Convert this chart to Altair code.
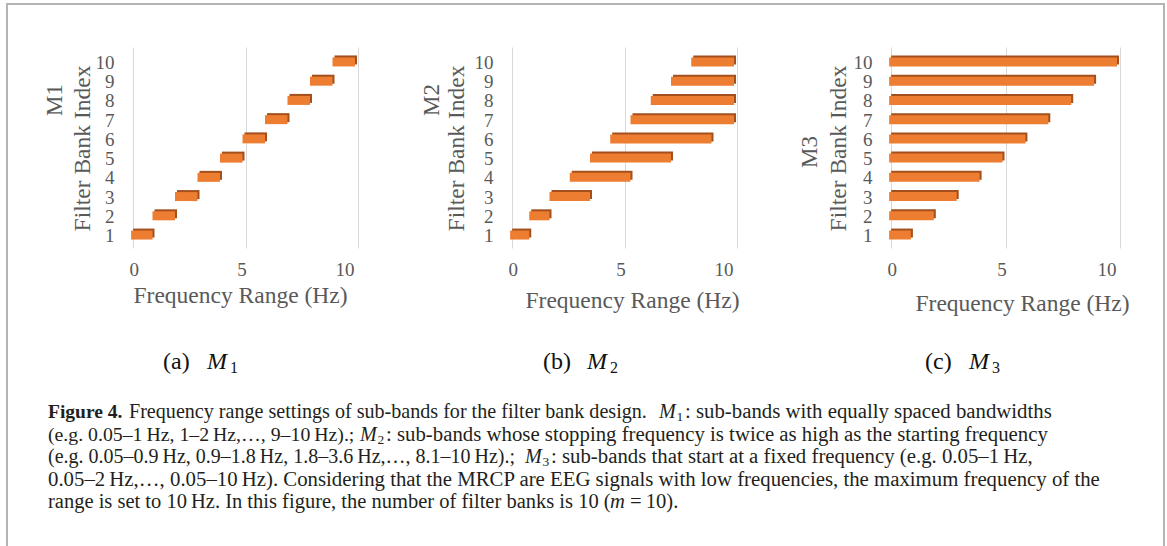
import altair as alt
import pandas as pd

# ---------------- data ----------------
filter_index = [1, 2, 3, 4, 5, 6, 7, 8, 9, 10]
m1_start = [0.05, 1, 2, 3, 4, 5, 6, 7, 8, 9]
m1_end = [1, 2, 3, 4, 5, 6, 7, 8, 9, 10]
m2_start = [0.05, 0.9, 1.8, 2.7, 3.6, 4.5, 5.4, 6.3, 7.2, 8.1]
m2_end = [0.9, 1.8, 3.6, 5.4, 7.2, 9.0, 10, 10, 10, 10]
m3_start = [0.05, 0.05, 0.05, 0.05, 0.05, 0.05, 0.05, 0.05, 0.05, 0.05]
m3_end = [1, 2, 3, 4, 5, 6, 7, 8, 9, 10]
x_ticks = [0, 5, 10]
x_title = "Frequency Range (Hz)"
y_title = "Filter Bank Index"
panel_names = ["M1", "M2", "M3"]
sub_letters = ["(a)", "(b)", "(c)"]
sub_indices = ["1", "2", "3"]

caption_line1 = ["Figure 4.", "Frequency range settings of sub-bands for the filter bank design.", "M", "1",
                 ": sub-bands with equally spaced bandwidths"]
caption_line2 = ["(e.g. 0.05\u20131\u2009Hz, 1\u20132\u2009Hz,\u2026, 9\u201310\u2009Hz).;", "M", "2",
                 ": sub-bands whose stopping frequency is twice as high as the starting frequency"]
caption_line3 = ["(e.g. 0.05\u20130.9\u2009Hz, 0.9\u20131.8\u2009Hz, 1.8\u20133.6\u2009Hz,\u2026, 8.1\u201310\u2009Hz).;", "M", "3",
                 ": sub-bands that start at a fixed frequency (e.g. 0.05\u20131\u2009Hz,"]
caption_line4 = ["0.05\u20132\u2009Hz,\u2026, 0.05\u201310\u2009Hz). Considering that the MRCP are EEG signals with low frequencies, the maximum frequency of the"]
caption_line5 = ["range is set to 10\u2009Hz. In this figure, the number of filter banks is 10 (", "m", "=\u200910)."]

# ---------------- style ----------------
SERIF = "Liberation Serif"
GRAY = "#595959"
ORANGE = "#ED7D31"
DARK = "#A4501C"
INK = "#231F20"
PLOT_TOP = 47
PLOT_H = 201
one = pd.DataFrame({"k": [0]})


def txt(text, x, y, origin, size=22, color=GRAY, **kw):
    return alt.Chart(one).mark_text(
        text=text, font=SERIF, fontSize=size, color=color,
        align=kw.pop("align", "left"), baseline=kw.pop("baseline", "middle"), **kw
    ).encode(x=alt.value(x - origin[0]), y=alt.value(y - origin[1]))


def panel(start, end, width, left, title_x, title_y, ytitle_x, name_pos, extra):
    df = pd.DataFrame({"idx": filter_index, "start": start, "end": end})
    x = alt.X("start:Q", scale=alt.Scale(domain=[0, 10], nice=False, zero=False),
              axis=alt.Axis(values=x_ticks, title=x_title, grid=True, labelPadding=21,
                            labelBaseline="middle", labelOffset=-4, labelFontSize=19,
                            titleX=title_x - left, titleY=title_y - (PLOT_TOP + PLOT_H),
                            titleBaseline="middle"))
    y = alt.Y("idx:O", sort="descending",
              scale=alt.Scale(paddingInner=0.5, paddingOuter=0.475),
              axis=alt.Axis(title=y_title, grid=False, labelAngle=0, labelPadding=19,
                            labelFontSize=19, labelOffset=2,
                            titleX=ytitle_x - left, titleY=148 - PLOT_TOP,
                            titleBaseline="middle"))
    base = alt.Chart(df)
    side = base.mark_bar(color=DARK, size=9, xOffset=-1, x2Offset=-1, yOffset=-1, y2Offset=-1).encode(
        x=x, x2="end:Q", y=y)
    front = base.mark_bar(color=ORANGE, size=9, xOffset=-3, x2Offset=-3, yOffset=1, y2Offset=1).encode(
        x=x, x2="end:Q", y=y)
    origin = (left, PLOT_TOP)
    name = txt(name_pos[2], name_pos[0], name_pos[1], origin, size=23, angle=270, align="center")
    layers = [side, front, name] + [f(origin) for f in extra]
    return alt.layer(*layers).properties(width=width, height=PLOT_H)


def subcap(letter, idx, x):
    return [
        lambda o, letter=letter, x=x: txt(letter, x, 362, o, size=24, color="#111111"),
        lambda o, x=x: txt("M", x + 44, 362, o, size=24, color="#111111", fontStyle="italic"),
        lambda o, idx=idx, x=x: txt(idx, x + 67, 368, o, size=16, color="#111111"),
    ]


def caption_items():
    items = []
    # frame
    items.append(lambda o: alt.Chart(one).mark_rect(fillOpacity=0, stroke="#B4B4B4", strokeWidth=2).encode(
        x=alt.value(7 - o[0]), x2=alt.value(1164 - o[0]), y=alt.value(4 - o[1]), y2=alt.value(575 - o[1])))
    ys = [418, 440.5, 463, 485.5, 508]
    ab = "alphabetic"

    def m_sub(letters, mx, y, o):
        return [
            txt(letters[0], mx, y, o, size=20.2, color=INK, fontStyle="italic", baseline=ab),
            txt(letters[1], mx + 17.5, y + 3, o, size=13.5, color=INK, baseline=ab),
            txt(letters[2], mx + 26, y, o, size=20.8, color=INK, baseline=ab),
        ]

    items.append(lambda o: txt(caption_line1[0], 48, ys[0], o, size=19.5, color=INK, fontWeight="bold", baseline=ab))
    items.append(lambda o: txt(caption_line1[1], 129, ys[0], o, size=20.1, color=INK, baseline=ab))
    items.append(lambda o: alt.layer(*m_sub(caption_line1[2:], 659, ys[0], o)))
    items.append(lambda o: txt(caption_line2[0], 48, ys[1], o, size=19.8, color=INK, baseline=ab))
    items.append(lambda o: alt.layer(*m_sub(caption_line2[1:], 360, ys[1], o)))
    items.append(lambda o: txt(caption_line3[0], 48, ys[2], o, size=20.0, color=INK, baseline=ab))
    items.append(lambda o: alt.layer(*m_sub(caption_line3[1:], 525, ys[2], o)))
    items.append(lambda o: txt(caption_line4[0], 48, ys[3], o, size=20.8, color=INK, baseline=ab))
    items.append(lambda o: txt(caption_line5[0], 48, ys[4], o, size=20.5, color=INK, baseline=ab))
    items.append(lambda o: txt(caption_line5[1], 610, ys[4], o, size=20.6, color=INK, fontStyle="italic", baseline=ab))
    items.append(lambda o: txt(caption_line5[2], 630, ys[4], o, size=20.6, color=INK, baseline=ab))
    return items


p1 = panel(m1_start, m1_end, 225, 133, 240, 295, 82, (55, 100, panel_names[0]),
           caption_items() + subcap(sub_letters[0], sub_indices[0], 163))
p2 = panel(m2_start, m2_end, 225, 512, 632, 300, 456, (432, 100, panel_names[1]),
           subcap(sub_letters[1], sub_indices[1], 543))
p3 = panel(m3_start, m3_end, 229, 891, 1022, 303, 838, (810, 152, panel_names[2]),
           subcap(sub_letters[2], sub_indices[2], 925))

chart = alt.hconcat(p1, p2, p3, spacing=154, bounds="flush", padding={"left": 6, "top": 3, "right": 0, "bottom": 0}).configure_view(
    strokeWidth=0
).configure_axis(
    labelFont=SERIF, titleFont=SERIF, labelColor=GRAY, titleColor=GRAY, titleFontSize=23.5,
    titleFontWeight="normal", ticks=False, domain=False, gridColor="#D9D9D9", gridWidth=1
)

chart.save("out.html", embed_options={"renderer": "svg", "actions": False})
